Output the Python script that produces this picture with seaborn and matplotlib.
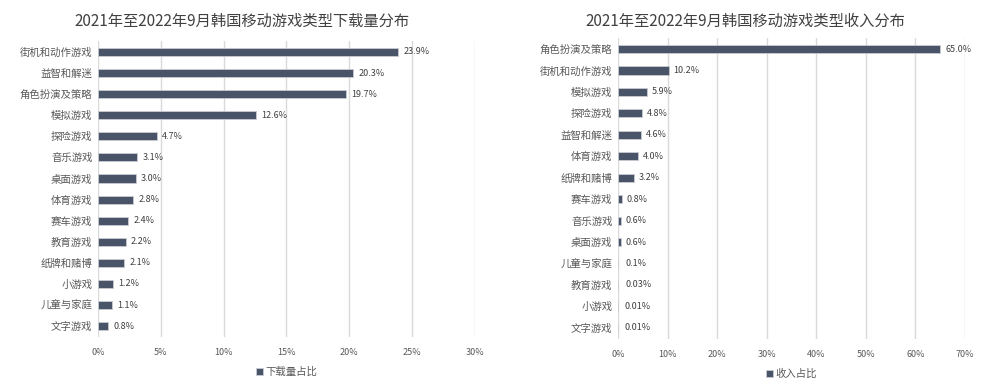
import matplotlib
matplotlib.use("Agg")
import matplotlib.pyplot as plt
import seaborn as sns
import pandas as pd
from matplotlib.ticker import FuncFormatter, MultipleLocator

sns.set_theme(style="white")
plt.rcParams['font.family'] = ['Noto Sans CJK SC', 'DejaVu Sans']

dl_categories = ["街机和动作游戏", "益智和解迷", "角色扮演及策略", "模拟游戏", "探险游戏", "音乐游戏",
                 "桌面游戏", "体育游戏", "赛车游戏", "教育游戏", "纸牌和赌博", "小游戏", "儿童与家庭", "文字游戏"]
dl_values = [23.9, 20.3, 19.7, 12.6, 4.7, 3.1, 3.0, 2.8, 2.4, 2.2, 2.1, 1.2, 1.1, 0.8]

rev_categories = ["角色扮演及策略", "街机和动作游戏", "模拟游戏", "探险游戏", "益智和解迷", "体育游戏",
                  "纸牌和赌博", "赛车游戏", "音乐游戏", "桌面游戏", "儿童与家庭", "教育游戏", "小游戏", "文字游戏"]
rev_values = [65.0, 10.2, 5.9, 4.8, 4.6, 4.0, 3.2, 0.8, 0.6, 0.6, 0.1, 0.03, 0.01, 0.01]

titles = ["2021年至2022年9月韩国移动游戏类型下载量分布", "2021年至2022年9月韩国移动游戏类型收入分布"]
legend_labels = ["下载量占比", "收入占比"]

BAR = "#4a5468"
GRID = "#d9d9d9"
TXT = "#595959"

fig = plt.figure(figsize=(9.91, 3.91), dpi=100)
ax1 = fig.add_axes([0.0989, 0.139, 0.3804, 0.755])
ax2 = fig.add_axes([0.6236, 0.134, 0.3502, 0.768])

def fmt_label(v):
    return f"{v:.1f}%" if v >= 0.1 else f"{v:.2f}%"

def draw(ax, cats, vals, title, leg, xmax, step, title_x, leg_y):
    df = pd.DataFrame({"cat": cats, "val": vals})
    sns.barplot(data=df, x="val", y="cat", color=BAR, orient="h", width=0.38,
                edgecolor="#c8ccd2", linewidth=0.6, saturation=1, label=leg, ax=ax)
    ax.set_xlim(0, xmax)
    ax.set_ylim(len(cats) - 0.5, -0.5)
    ax.xaxis.set_major_locator(MultipleLocator(step))
    ax.xaxis.set_major_formatter(FuncFormatter(lambda x, p: f"{x:.0f}%"))
    ax.grid(axis="x", color=GRID, linewidth=1)
    ax.set_axisbelow(True)
    for s in ax.spines.values():
        s.set_visible(False)
    ax.set_xlabel("")
    ax.set_ylabel("")
    ax.tick_params(axis="x", labelsize=6.5, colors=TXT, length=0, pad=8)
    ax.tick_params(axis="y", labelsize=7.5, colors=TXT, length=0, pad=4)
    off = xmax * 0.014
    for i, v in enumerate(vals):
        ax.text(v + off + (xmax * 0.006 if v < 0.5 else 0), i, fmt_label(v), va="center", ha="left",
                fontsize=6.5, color="#404040")
    ax.legend(loc="upper center", bbox_to_anchor=(0.5, leg_y), frameon=False,
              handlelength=0.7, handleheight=0.7, handletextpad=0.2,
              fontsize=7.5, labelcolor=TXT)
    fig.text(title_x, 0.945, title, ha="center", va="center", fontsize=11, color="#404040")

draw(ax1, dl_categories, dl_values, titles[0], legend_labels[0], 30, 5, 242 / 991, -0.07)
draw(ax2, rev_categories, rev_values, titles[1], legend_labels[1], 70, 10, 745 / 991, -0.07)

fig.savefig("out.png", dpi=100, facecolor="white")
